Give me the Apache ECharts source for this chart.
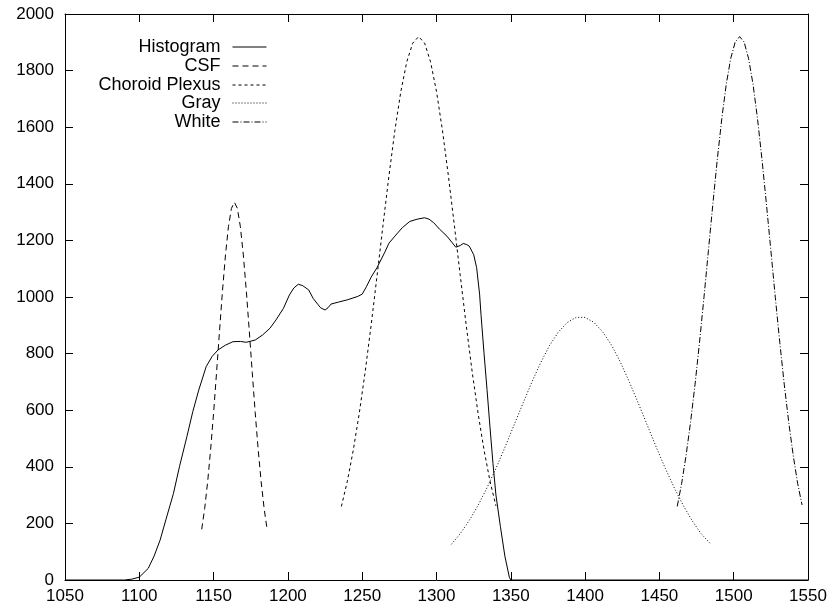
<!DOCTYPE html>
<html>
<head>
<meta charset="utf-8">
<script src="https://cdn.jsdelivr.net/npm/echarts@6/dist/echarts.min.js"></script>
<style>
  html, body { margin: 0; padding: 0; background: #fff; }
  #chart { width: 833px; height: 611px; }
</style>
</head>
<body>
<div id="chart"></div>
<script>
(function () {
    'use strict';

    // values
    var histX = [1050, 1090, 1095, 1100, 1106, 1110, 1114, 1118, 1123, 1127, 1132, 1136, 1140, 1145, 1149, 1153, 1158, 1163, 1168, 1172, 1178, 1183, 1188, 1192, 1197, 1201, 1204, 1207, 1210, 1214, 1217, 1220, 1222, 1225, 1227, 1229, 1234, 1240, 1247, 1250, 1253, 1256, 1260, 1265, 1268, 1272, 1277, 1282, 1287, 1292, 1295, 1298, 1302, 1307, 1313, 1316, 1318, 1320, 1322, 1325, 1327, 1329, 1330, 1332, 1334, 1336, 1338, 1340, 1343, 1346, 1349, 1350, 1550];
    var histY = [0, 0, 3, 10, 41, 85, 141, 215, 306, 400, 506, 595, 671, 754, 790, 813, 830, 842, 843, 840, 848, 866, 890, 919, 960, 1007, 1032, 1045, 1040, 1025, 995, 975, 962, 954, 962, 975, 982, 990, 1002, 1010, 1038, 1070, 1104, 1156, 1190, 1215, 1245, 1267, 1275, 1280, 1275, 1263, 1240, 1215, 1176, 1182, 1189, 1186, 1180, 1150, 1104, 1010, 934, 800, 673, 540, 412, 300, 189, 85, 10, 0, 0];

    var csfX = [1142, 1144, 1146, 1148, 1150, 1152, 1154, 1156, 1158, 1160, 1162, 1164, 1166, 1168, 1170, 1172, 1174, 1176, 1178, 1180, 1182, 1184, 1186];
    var csfY = [179, 253, 347, 461, 591, 734, 881, 1023, 1149, 1249, 1313, 1335, 1313, 1249, 1149, 1023, 881, 734, 591, 461, 347, 253, 179];

    var plexX = [1236, 1240, 1244, 1248, 1252, 1256, 1260, 1264, 1268, 1272, 1276, 1280, 1284, 1288, 1292, 1296, 1300, 1304, 1308, 1312, 1316, 1320, 1324, 1328, 1332, 1336, 1340];
    var plexY = [260, 349, 459, 588, 736, 900, 1075, 1254, 1428, 1589, 1726, 1831, 1897, 1920, 1897, 1831, 1726, 1589, 1428, 1254, 1075, 900, 736, 588, 459, 349, 262];

    var grayX = [1310, 1316, 1322, 1328, 1334, 1340, 1346, 1352, 1358, 1364, 1370, 1376, 1382, 1388, 1394, 1400, 1406, 1412, 1418, 1424, 1430, 1436, 1442, 1448, 1454, 1460, 1466, 1472, 1478, 1484];
    var grayY = [126, 164, 210, 264, 326, 394, 468, 545, 622, 697, 767, 828, 876, 910, 928, 928, 910, 876, 828, 767, 697, 622, 545, 468, 394, 326, 264, 210, 164, 130];

    var whiteX = [1462, 1465, 1468, 1471, 1474, 1477, 1480, 1483, 1486, 1489, 1492, 1495, 1498, 1501, 1504, 1507, 1510, 1513, 1516, 1519, 1522, 1525, 1528, 1531, 1534, 1537, 1540, 1543, 1546];
    var whiteY = [260, 342, 442, 559, 692, 840, 999, 1165, 1330, 1488, 1631, 1752, 1843, 1901, 1920, 1901, 1843, 1752, 1631, 1488, 1330, 1165, 999, 840, 692, 559, 442, 342, 265];

    var names = ['Histogram', 'CSF', 'Choroid Plexus', 'Gray', 'White'];

    var FONT = 'Liberation Sans';

    function pairs(xs, ys) {
        var out = [];
        for (var i = 0; i < xs.length; i++) out.push([xs[i], ys[i]]);
        return out;
    }

    function lineSeries(name, xs, ys, dash) {
        return {
            name: name,
            type: 'line',
            data: pairs(xs, ys),
            symbol: 'none',
            showSymbol: false,
            silent: true,
            animation: false,
            lineStyle: { color: '#000', width: 1, type: dash },
            itemStyle: { color: '#000' }
        };
    }

    // one legend per row so that the rows are right-aligned like gnuplot's key
    var legendTops = [33, 52, 71, 89, 108];
    var legends = names.map(function (n, i) {
        return {
            data: [n],
            right: 561,
            top: legendTops[i],
            align: 'right',
            itemWidth: 34,
            itemHeight: 12,
            selectedMode: false,
            itemStyle: { opacity: 0 },
            lineStyle: { width: 1 },
            textStyle: { fontFamily: FONT, fontSize: 18, color: '#000', padding: [0, 7, 0, 0] }
        };
    });

    function plain(v) { return String(v); }

    var axisLine = { show: true, onZero: false, lineStyle: { color: '#000', width: 1 } };
    var axisTick = { show: true, inside: true, length: 8, lineStyle: { color: '#000', width: 1 } };

    var option = {
        animation: false,
        backgroundColor: '#fff',
        legend: legends,
        grid: { left: 65, right: 25, top: 14, bottom: 31 },
        xAxis: [{
            type: 'value', min: 1050, max: 1550, interval: 50, position: 'bottom',
            axisLine: axisLine, axisTick: axisTick, splitLine: { show: false },
            axisLabel: { fontFamily: FONT, fontSize: 17, color: '#000', margin: 8, formatter: plain, showMinLabel: true, showMaxLabel: true }
        }, {
            type: 'value', min: 1050, max: 1550, interval: 50, position: 'top',
            axisLine: axisLine, axisTick: axisTick, splitLine: { show: false },
            axisLabel: { show: false }
        }],
        yAxis: [{
            type: 'value', min: 0, max: 2000, interval: 200, position: 'left',
            axisLine: axisLine, axisTick: axisTick, splitLine: { show: false },
            axisLabel: { fontFamily: FONT, fontSize: 17, color: '#000', margin: 11, formatter: plain }
        }, {
            type: 'value', min: 0, max: 2000, interval: 200, position: 'right',
            axisLine: axisLine, axisTick: axisTick, splitLine: { show: false },
            axisLabel: { show: false }
        }],
        series: [
            lineSeries(names[0], histX, histY, 'solid'),
            lineSeries(names[1], csfX, csfY, [6, 4]),
            lineSeries(names[2], plexX, plexY, [3, 3]),
            lineSeries(names[3], grayX, grayY, [1, 2]),
            lineSeries(names[4], whiteX, whiteY, [6, 2, 1, 2])
        ]
    };

    var chart = echarts.init(document.getElementById('chart'));
    chart.setOption(option);
})();
</script>
</body>
</html>
